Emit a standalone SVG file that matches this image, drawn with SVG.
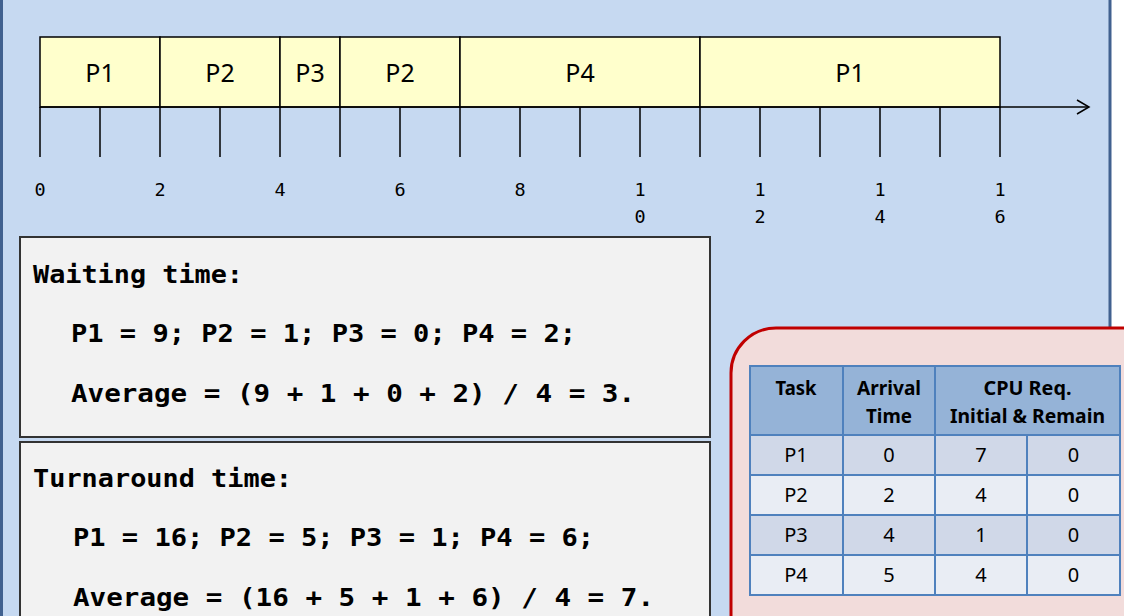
<svg xmlns="http://www.w3.org/2000/svg" width="1124" height="616" viewBox="0 0 1124 616">
  <style>
    .seg { fill: #FFFFCC; stroke: #000; stroke-width: 1.5; }
    .seglbl { font-family: "Noto Sans", "Liberation Sans", sans-serif; font-size: 25px; fill: #000; text-anchor: middle; }
    .tick { stroke: #000; stroke-width: 1.5; }
    .num { font-family: "DejaVu Sans Mono", "Liberation Mono", monospace; font-size: 18.5px; fill: #000; text-anchor: middle; }
    .box { fill: #F2F2F2; stroke: #333; stroke-width: 2; }
    .mono { font-family: "DejaVu Sans Mono", "Liberation Mono", monospace; font-size: 24px; font-weight: bold; fill: #000; }
    .th { fill: #95B3D7; stroke: #4F81BD; stroke-width: 2; }
    .rowA { fill: #D0D8E8; stroke: #4F81BD; stroke-width: 2; }
    .rowB { fill: #E9EDF4; stroke: #4F81BD; stroke-width: 2; }
    .tht { font-family: "Noto Sans", "Liberation Sans", sans-serif; font-size: 20px; font-weight: bold; fill: #000; text-anchor: middle; }
    .td { font-family: "Noto Sans", "Liberation Sans", sans-serif; font-size: 20px; fill: #000; text-anchor: middle; }
  </style>

  <rect x="0" y="0" width="1124" height="616" fill="#FFFFFF"/>
  <rect id="panel" x="1.5" y="-10" width="1108.5" height="640" fill="#C6D9F1" stroke="#41618F" stroke-width="3"/>

  <g id="gantt">
    <g id="seg-p1a"><rect class="seg" x="40" y="37" width="120" height="70"/><text class="seglbl" x="100" y="82">P1</text></g>
    <g id="seg-p2a"><rect class="seg" x="160" y="37" width="120" height="70"/><text class="seglbl" x="220" y="82">P2</text></g>
    <g id="seg-p3"><rect class="seg" x="280" y="37" width="60" height="70"/><text class="seglbl" x="310" y="82">P3</text></g>
    <g id="seg-p2b"><rect class="seg" x="340" y="37" width="120" height="70"/><text class="seglbl" x="400" y="82">P2</text></g>
    <g id="seg-p4"><rect class="seg" x="460" y="37" width="240" height="70"/><text class="seglbl" x="580" y="82">P4</text></g>
    <g id="seg-p1b"><rect class="seg" x="700" y="37" width="300" height="70"/><text class="seglbl" x="850" y="82">P1</text></g>
  </g>

  <g id="connectors">
    <line class="tick" x1="40" y1="107" x2="1089" y2="107"/>
    <polyline points="1077,100 1089,107 1077,114" fill="none" stroke="#000" stroke-width="1.5"/>
    <line class="tick" x1="40" y1="107" x2="40" y2="157"/>
    <line class="tick" x1="100" y1="107" x2="100" y2="157"/>
    <line class="tick" x1="160" y1="107" x2="160" y2="157"/>
    <line class="tick" x1="220" y1="107" x2="220" y2="157"/>
    <line class="tick" x1="280" y1="107" x2="280" y2="157"/>
    <line class="tick" x1="340" y1="107" x2="340" y2="157"/>
    <line class="tick" x1="400" y1="107" x2="400" y2="157"/>
    <line class="tick" x1="460" y1="107" x2="460" y2="157"/>
    <line class="tick" x1="520" y1="107" x2="520" y2="157"/>
    <line class="tick" x1="580" y1="107" x2="580" y2="157"/>
    <line class="tick" x1="640" y1="107" x2="640" y2="157"/>
    <line class="tick" x1="700" y1="107" x2="700" y2="157"/>
    <line class="tick" x1="760" y1="107" x2="760" y2="157"/>
    <line class="tick" x1="820" y1="107" x2="820" y2="157"/>
    <line class="tick" x1="880" y1="107" x2="880" y2="157"/>
    <line class="tick" x1="940" y1="107" x2="940" y2="157"/>
    <line class="tick" x1="1000" y1="107" x2="1000" y2="157"/>
  </g>

  <g id="axis-labels">
    <text class="num" x="40" y="196">0</text>
    <text class="num" x="160" y="196">2</text>
    <text class="num" x="280" y="196">4</text>
    <text class="num" x="400" y="196">6</text>
    <text class="num" x="520" y="196">8</text>
    <text class="num" x="640" y="196">1</text><text class="num" x="640" y="223">0</text>
    <text class="num" x="760" y="196">1</text><text class="num" x="760" y="223">2</text>
    <text class="num" x="880" y="196">1</text><text class="num" x="880" y="223">4</text>
    <text class="num" x="1000" y="196">1</text><text class="num" x="1000" y="223">6</text>
  </g>

  <g id="waiting-box">
    <rect class="box" x="20" y="237" width="690" height="200"/>
    <text class="mono" x="33" y="283" textLength="210" lengthAdjust="spacingAndGlyphs">Waiting time:</text>
    <text class="mono" x="71" y="342" textLength="505" lengthAdjust="spacingAndGlyphs">P1 = 9; P2 = 1; P3 = 0; P4 = 2;</text>
    <text class="mono" x="71" y="402" textLength="564" lengthAdjust="spacingAndGlyphs">Average = (9 + 1 + 0 + 2) / 4 = 3.</text>
  </g>

  <g id="turnaround-box">
    <rect class="box" x="20" y="442" width="690" height="190"/>
    <text class="mono" x="33" y="487" textLength="259" lengthAdjust="spacingAndGlyphs">Turnaround time:</text>
    <text class="mono" x="73" y="546" textLength="521" lengthAdjust="spacingAndGlyphs">P1 = 16; P2 = 5; P3 = 1; P4 = 6;</text>
    <text class="mono" x="73" y="606" textLength="581" lengthAdjust="spacingAndGlyphs">Average = (16 + 5 + 1 + 6) / 4 = 7.</text>
  </g>

  <g id="task-table">
    <rect x="731" y="328" width="460" height="340" rx="45" ry="45" fill="#F2DCDB" stroke="#C00000" stroke-width="3"/>
    <rect class="th" x="750" y="366" width="93" height="69"/>
    <rect class="th" x="843" y="366" width="92" height="69"/>
    <rect class="th" x="935" y="366" width="185" height="69"/>
    <text class="tht" x="796" y="395" textLength="41" lengthAdjust="spacingAndGlyphs">Task</text>
    <text class="tht" x="889" y="395" textLength="64" lengthAdjust="spacingAndGlyphs">Arrival</text>
    <text class="tht" x="889" y="423" textLength="46" lengthAdjust="spacingAndGlyphs">Time</text>
    <text class="tht" x="1027.5" y="395" textLength="88" lengthAdjust="spacingAndGlyphs">CPU Req.</text>
    <text class="tht" x="1027.5" y="423" textLength="155" lengthAdjust="spacingAndGlyphs">Initial &amp; Remain</text>

    <rect class="rowA" x="750" y="435" width="93" height="40"/>
    <rect class="rowA" x="843" y="435" width="92" height="40"/>
    <rect class="rowA" x="935" y="435" width="92" height="40"/>
    <rect class="rowA" x="1027" y="435" width="93" height="40"/>
    <rect class="rowB" x="750" y="475" width="93" height="40"/>
    <rect class="rowB" x="843" y="475" width="92" height="40"/>
    <rect class="rowB" x="935" y="475" width="92" height="40"/>
    <rect class="rowB" x="1027" y="475" width="93" height="40"/>
    <rect class="rowA" x="750" y="515" width="93" height="40"/>
    <rect class="rowA" x="843" y="515" width="92" height="40"/>
    <rect class="rowA" x="935" y="515" width="92" height="40"/>
    <rect class="rowA" x="1027" y="515" width="93" height="40"/>
    <rect class="rowB" x="750" y="555" width="93" height="40"/>
    <rect class="rowB" x="843" y="555" width="92" height="40"/>
    <rect class="rowB" x="935" y="555" width="92" height="40"/>
    <rect class="rowB" x="1027" y="555" width="93" height="40"/>

    <text class="td" x="796" y="462">P1</text><text class="td" x="889" y="462">0</text><text class="td" x="981" y="462">7</text><text class="td" x="1073.5" y="462">0</text>
    <text class="td" x="796" y="502">P2</text><text class="td" x="889" y="502">2</text><text class="td" x="981" y="502">4</text><text class="td" x="1073.5" y="502">0</text>
    <text class="td" x="796" y="542">P3</text><text class="td" x="889" y="542">4</text><text class="td" x="981" y="542">1</text><text class="td" x="1073.5" y="542">0</text>
    <text class="td" x="796" y="582">P4</text><text class="td" x="889" y="582">5</text><text class="td" x="981" y="582">4</text><text class="td" x="1073.5" y="582">0</text>
  </g>
</svg>
